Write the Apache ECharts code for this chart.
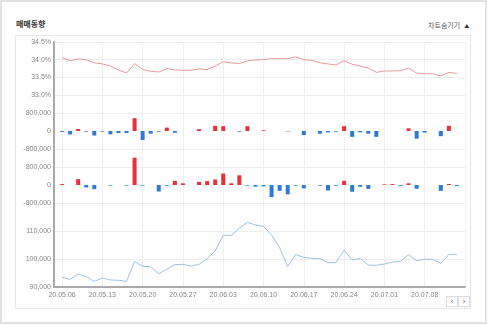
<!DOCTYPE html>
<html><head><meta charset="utf-8">
<script src="https://cdn.jsdelivr.net/npm/echarts@6/dist/echarts.min.js"></script>
<style>
html,body{margin:0;padding:0;background:#fff;}
#wrap{position:relative;width:487px;height:324px;overflow:hidden;}
#card{position:absolute;left:0;top:0;width:487px;height:324px;box-sizing:border-box;border:2px solid #e2e2e2;}
#panel{position:absolute;left:15px;top:35px;width:456px;height:274px;box-sizing:border-box;border:1px solid #e6e6e6;}
#title{position:absolute;left:16px;top:18px;font:600 8px "Noto Sans CJK KR",sans-serif;color:#333;line-height:12px;}
#hide{position:absolute;left:428px;top:19px;font:7px "Noto Sans CJK KR",sans-serif;color:#555;line-height:12px;}
#hide span{font-size:5px;margin-left:4px;color:#333;}
.btn{position:absolute;top:296px;width:12px;height:11px;box-sizing:border-box;border:1px solid #ddd;font:8px "DejaVu Sans",sans-serif;color:#666;text-align:center;line-height:9px;background:#fff;}
#chart{position:absolute;left:0;top:0;width:487px;height:324px;}
</style></head>
<body><div id="wrap">
<div id="card"></div>
<div id="panel"></div>
<div id="title">매매동향</div>
<div id="hide">차트숨기기<span>▲</span></div>
<div class="btn" style="left:446px">&lsaquo;</div>
<div class="btn" style="left:458px">&rsaquo;</div>
<div id="chart"></div>
</div>
<script>
const dates = ['20.05.06','20.05.07','20.05.08','20.05.11','20.05.12','20.05.13','20.05.14','20.05.15','20.05.18','20.05.19',
 '20.05.20','20.05.21','20.05.22','20.05.25','20.05.26','20.05.27','20.05.28','20.05.29','20.06.01','20.06.02',
 '20.06.03','20.06.04','20.06.05','20.06.08','20.06.09','20.06.10','20.06.11','20.06.12','20.06.15','20.06.16',
 '20.06.17','20.06.18','20.06.19','20.06.22','20.06.23','20.06.24','20.06.25','20.06.26','20.06.29','20.06.30',
 '20.07.01','20.07.02','20.07.03','20.07.06','20.07.07','20.07.08','20.07.09','20.07.10','20.07.13','20.07.14'];
const foreignRatio = [34.06,33.97,34.02,34.00,33.91,33.88,33.82,33.71,33.62,33.89,33.72,33.67,33.65,33.75,33.71,33.70,33.70,33.74,33.72,33.82,
 33.94,33.91,33.89,33.97,33.99,34.00,34.03,34.03,34.03,34.08,34.00,33.98,33.91,33.88,33.85,33.97,33.87,33.82,33.76,33.64,
 33.68,33.68,33.69,33.76,33.62,33.60,33.60,33.54,33.64,33.61];
const foreignNet = [-40000,-150000,90000,-30000,-200000,-30000,-150000,-90000,-90000,570000,-400000,-120000,-30000,150000,-80000,0,0,80000,0,230000,
 215000,0,-30000,215000,0,30000,0,0,-20000,0,-180000,0,-120000,-60000,-30000,215000,-260000,-60000,-120000,-260000,
 0,0,0,120000,-340000,-70000,0,-230000,230000,0];
const instNet = [40000,0,260000,-110000,-185000,0,-30000,0,-30000,1215000,-30000,0,-290000,-30000,185000,75000,0,140000,170000,245000,
 510000,75000,430000,-30000,-75000,-60000,-540000,-260000,-415000,-30000,-150000,0,-30000,-245000,-30000,185000,-300000,-80000,-170000,0,
 30000,40000,-40000,75000,-170000,0,0,-260000,45000,-40000];
const price = [93450,92750,94650,93700,92000,93200,92500,92400,92000,99150,97400,97250,94750,96300,98000,98100,97400,98100,100100,102850,
 108450,108450,111050,113100,112150,111650,108550,104050,97250,101550,100600,100250,100100,98700,98800,103100,99650,100250,97850,97750,
 98200,98950,99150,101550,99400,99900,99900,98450,101650,101650];

const cats = [''].concat(dates).concat(['']);
const pad = a => ['-'].concat(a).concat(['-']);
const tickFn = (i) => (i >= 1 && i <= dates.length && (i - 1) % 5 === 0) || i === cats.length - 1;
const lblFn = (i) => (i >= 1 && i <= dates.length && (i - 1) % 5 === 0);
const fmtNum = v => v.toLocaleString('en-US');
const lblStyle = {fontSize:7, color:'#888', fontFamily:'Liberation Sans, Arial, sans-serif'};

const grids = [
  {left:54, right:22, top:42, height:53},
  {left:54, right:22, top:95, height:54},
  {left:54, right:22, top:149, height:54},
  {left:54, right:22, top:203, height:84}
];
function xAx(idx, last){
  return {type:'category', gridIndex:idx, data:cats, boundaryGap:false,
    axisLine:{show:last, lineStyle:{color:'#aaa', width:2}},
    axisTick:{show:false},
    axisLabel:{show:last, interval:lblFn, margin:5, ...lblStyle},
    splitLine:{show:true, interval:tickFn, lineStyle:{color:'#f0f0f0', width:1}}};
}
function yAx(idx, min, max, interval, fmt, showMax, lineColors){
  return {type:'value', gridIndex:idx, min, max, interval,
    axisLine:{show:true, lineStyle:{color:'#aaa', width:2}},
    axisTick:{show:false},
    axisLabel:{margin:3, showMaxLabel:showMax, formatter:fmt, ...lblStyle},
    splitLine:{show:true, lineStyle:{color:lineColors, width:1}}};
}
const barColor = p => p.value >= 0 ? '#e8303a' : '#2f7ad6';
const chart = echarts.init(document.getElementById('chart'), null, {renderer:'canvas'});
chart.setOption({
  animation:false,
  grid:grids,
  xAxis:[xAx(0,false), xAx(1,false), xAx(2,false), xAx(3,true)],
  yAxis:[
    yAx(0, 33.0, 34.5, 0.5, v => v.toFixed(1) + '%', true, '#eeeeee'),
    yAx(1, -800000, 1600000, 800000, fmtNum, false, ['#eeeeee','rgba(0,0,0,0)']),
    yAx(2, -800000, 1600000, 800000, fmtNum, false, ['#eeeeee','rgba(0,0,0,0)']),
    yAx(3, 90000, 120000, 10000, fmtNum, false, '#eeeeee')
  ],
  series:[
    {type:'line', xAxisIndex:0, yAxisIndex:0, data:pad(foreignRatio), symbol:'none',
      lineStyle:{color:'#e89a9a', width:1}},
    {type:'bar', xAxisIndex:1, yAxisIndex:1, data:pad(foreignNet), barWidth:4, itemStyle:{color:barColor}},
    {type:'bar', xAxisIndex:2, yAxisIndex:2, data:pad(instNet), barWidth:4, itemStyle:{color:barColor}},
    {type:'line', xAxisIndex:3, yAxisIndex:3, data:pad(price), symbol:'none',
      lineStyle:{color:'#9cc1e7', width:1}}
  ]
});
</script>
</body></html>
